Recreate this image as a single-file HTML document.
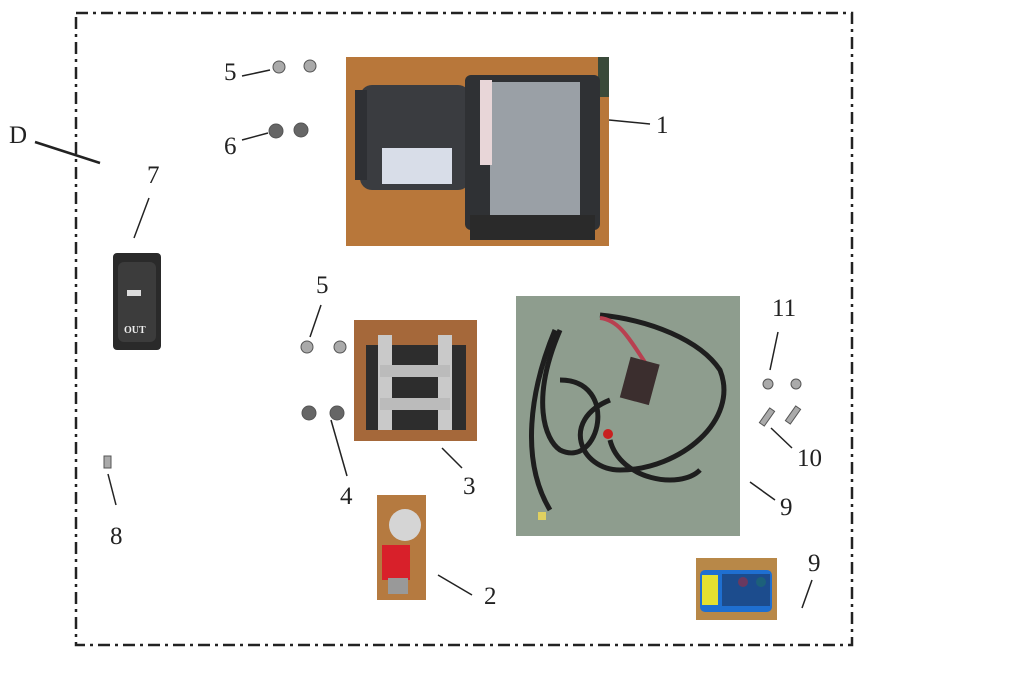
<!DOCTYPE html>
<html><head><meta charset="utf-8"><style>
html,body{margin:0;padding:0;background:#fff;}
svg{display:block;}
text{font-family:"Liberation Serif",serif;font-size:25px;fill:#222;}
</style></head><body>
<svg width="1024" height="687" viewBox="0 0 1024 687" xmlns="http://www.w3.org/2000/svg">
<rect x="76" y="13" width="776" height="632" fill="none" stroke="#222" stroke-width="2.5" stroke-dasharray="12,5,3,5"/>
<!-- winch photo -->
<rect x="346" y="57" width="263" height="189" fill="#b8773a"/>
<rect x="598" y="57" width="11" height="40" fill="#3a4a3a"/>
<rect x="360" y="85" width="110" height="105" rx="12" fill="#3a3c40"/>
<rect x="355" y="90" width="12" height="90" fill="#2e3034"/>
<rect x="382" y="148" width="70" height="36" fill="#d8dde8"/>
<rect x="465" y="75" width="135" height="155" rx="6" fill="#2f3134"/>
<rect x="490" y="82" width="90" height="140" fill="#9aa0a6"/>
<rect x="480" y="80" width="12" height="85" fill="#e8d6d8"/>
<rect x="470" y="215" width="125" height="25" fill="#2a2a2a"/>
<!-- fairlead -->
<rect x="354" y="320" width="123" height="121" fill="#a5683a"/>
<rect x="366" y="345" width="100" height="85" fill="#2d2d2d"/>
<rect x="378" y="335" width="14" height="95" fill="#c9c9c9"/>
<rect x="438" y="335" width="14" height="95" fill="#c9c9c9"/>
<rect x="380" y="365" width="70" height="12" fill="#bbb"/>
<rect x="380" y="398" width="70" height="12" fill="#bbb"/>
<!-- hook -->
<rect x="377" y="495" width="49" height="105" fill="#b57a40"/>
<circle cx="405" cy="525" r="16" fill="#d5d5d5"/>
<rect x="382" y="545" width="28" height="35" fill="#d8202a"/>
<rect x="388" y="578" width="20" height="16" fill="#999"/>
<!-- wiring -->
<rect x="516" y="296" width="224" height="240" fill="#8e9d8e"/>
<g fill="none" stroke="#1e1e1e" stroke-width="5">
<path d="M560 330 C530 400 545 440 560 450 C600 470 620 380 560 380"/>
<path d="M600 315 C650 320 700 340 720 370 C740 420 680 470 620 470 C580 470 560 420 610 400"/>
<path d="M555 330 C530 390 520 460 550 510"/>
<path d="M610 440 C620 480 680 490 700 470"/>
</g>
<path d="M600 318 C620 320 630 340 650 370" stroke="#b84050" stroke-width="4" fill="none"/>
<rect x="625" y="360" width="30" height="42" fill="#3b2e2e" transform="rotate(15 640 380)"/>
<circle cx="608" cy="434" r="5" fill="#c82020"/>
<rect x="538" y="512" width="8" height="8" fill="#e0d060"/>
<!-- remote -->
<rect x="696" y="558" width="81" height="62" fill="#b88848"/>
<rect x="700" y="570" width="72" height="42" rx="5" fill="#1f6fd0"/>
<rect x="702" y="575" width="16" height="30" fill="#e5e030"/>
<circle cx="743" cy="582" r="5" fill="#e04060"/>
<circle cx="761" cy="582" r="5" fill="#20a0a0"/>
<rect x="722" y="574" width="48" height="32" fill="#1a3660" opacity=".6"/>
<!-- switch -->
<rect x="113" y="253" width="48" height="97" rx="4" fill="#2a2a2a"/>
<rect x="118" y="262" width="38" height="80" rx="6" fill="#3c3c3c"/>
<text x="124" y="333" style="font-size:10px;fill:#eee;font-weight:bold">OUT</text>
<rect x="127" y="290" width="14" height="6" fill="#ddd"/>
<!-- small parts -->
<g fill="#aaa" stroke="#555" stroke-width="1">
<circle cx="279" cy="67" r="6"/><circle cx="310" cy="66" r="6"/>
<circle cx="276" cy="131" r="7" fill="#666"/><circle cx="301" cy="130" r="7" fill="#666"/>
<circle cx="307" cy="347" r="6"/><circle cx="340" cy="347" r="6"/>
<circle cx="309" cy="413" r="7" fill="#666"/><circle cx="337" cy="413" r="7" fill="#666"/>
<circle cx="768" cy="384" r="5"/><circle cx="796" cy="384" r="5"/>
<rect x="764" y="408" width="6" height="18" transform="rotate(35 767 417)"/>
<rect x="790" y="406" width="6" height="18" transform="rotate(35 793 415)"/>
<rect x="104" y="456" width="7" height="12"/>
</g>
<!-- leader lines -->
<g stroke="#222" stroke-width="1.5" fill="none">
<line x1="35" y1="142" x2="100" y2="163" stroke-width="2.5"/>
<line x1="242" y1="76" x2="270" y2="70"/>
<line x1="242" y1="140" x2="268" y2="133"/>
<line x1="609" y1="120" x2="650" y2="124"/>
<line x1="149" y1="198" x2="134" y2="238"/>
<line x1="321" y1="305" x2="310" y2="337"/>
<line x1="331" y1="420" x2="347" y2="476"/>
<line x1="442" y1="448" x2="462" y2="468"/>
<line x1="438" y1="575" x2="472" y2="595"/>
<line x1="778" y1="332" x2="770" y2="370"/>
<line x1="771" y1="428" x2="792" y2="448"/>
<line x1="750" y1="482" x2="775" y2="500"/>
<line x1="812" y1="580" x2="802" y2="608"/>
<line x1="108" y1="474" x2="116" y2="505"/>
</g>
<text x="9" y="143">D</text>
<text x="224" y="80">5</text>
<text x="224" y="154">6</text>
<text x="656" y="133">1</text>
<text x="147" y="183">7</text>
<text x="316" y="293">5</text>
<text x="340" y="504">4</text>
<text x="463" y="494">3</text>
<text x="484" y="604">2</text>
<text x="110" y="544">8</text>
<text x="772" y="316">11</text>
<text x="797" y="466">10</text>
<text x="780" y="515">9</text>
<text x="808" y="571">9</text>
</svg>
</body></html>
